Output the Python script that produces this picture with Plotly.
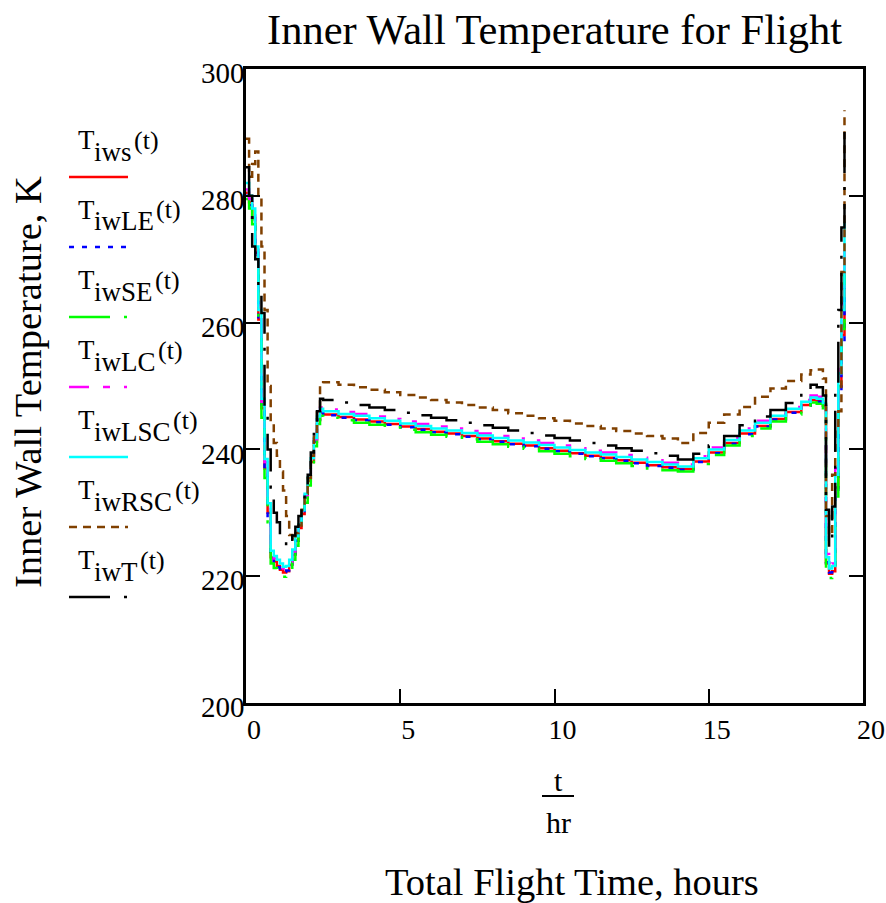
import plotly.graph_objects as go

# ---------------------------------------------------------------------------
# Flight time grid (hours) shared by all inner-wall temperature series
# ---------------------------------------------------------------------------
t_hr = [
    # take-off / initial climb
    0.0, 0.1, 0.2, 0.3, 0.4, 0.5, 0.6, 0.7, 0.8, 0.9,
    1.0, 1.1, 1.2, 1.3, 1.4, 1.5, 1.6, 1.7, 1.8, 1.9,
    2.0, 2.1, 2.2, 2.3, 2.4,
    # cruise
    2.5, 3.0, 3.5, 4.0, 4.5, 5.0, 5.5, 6.0, 6.5, 7.0, 7.5, 8.0,
    8.5, 9.0, 9.5, 10.0, 10.5, 11.0, 11.5, 12.0, 12.5, 13.0, 13.5, 14.0,
    # late cruise warm-up
    14.5, 15.0, 15.5, 16.0, 16.5, 17.0, 17.5, 18.0,
    # descent / landing
    18.3, 18.5, 18.7, 18.8, 18.9, 19.0, 19.1, 19.2, 19.3, 19.4,
]

# Inner wall temperatures, K
T_iws = [
    280.5, 279.0, 276.5, 271.0, 260.5, 246.5, 237.0, 230.0, 223.0, 222.3,
    221.6, 221.0, 220.6, 220.8, 221.8, 223.4, 225.6, 227.6, 229.8, 232.4,
    235.0, 238.0, 241.2, 244.6, 245.8,
    245.5, 245.1, 244.7, 244.4, 244.0, 243.6, 243.2, 242.8, 242.5, 242.1, 241.7, 241.3,
    240.9, 240.6, 240.2, 239.8, 239.4, 239.0, 238.7, 238.3, 237.9, 237.5, 237.2, 236.9,
    238.1, 239.5, 241.0, 242.5, 243.7, 244.8, 245.9, 247.0,
    247.8, 247.6, 246.9, 222.0, 220.4, 220.8, 234.0, 250.0, 258.0, 268.0,
]
T_iwLE = [
    280.0, 278.5, 276.0, 270.5, 260.0, 246.0, 236.5, 229.5, 222.8, 222.0,
    221.4, 220.9, 220.7, 220.9, 221.9, 223.5, 225.6, 227.6, 229.9, 232.5,
    235.1, 238.1, 241.3, 244.7, 245.9,
    245.4, 245.0, 244.6, 244.3, 243.9, 243.5, 243.1, 242.7, 242.4, 242.0, 241.6, 241.2,
    240.8, 240.5, 240.1, 239.7, 239.3, 238.9, 238.6, 238.2, 237.8, 237.4, 237.1, 236.8,
    238.0, 239.4, 240.9, 242.4, 243.6, 244.7, 245.8, 246.9,
    247.7, 247.5, 246.8, 222.2, 220.6, 221.0, 233.0, 249.0, 257.0, 265.5,
]
T_iwSE = [
    279.5, 278.0, 275.5, 270.0, 259.0, 245.0, 235.5, 228.5, 222.0, 221.3,
    220.7, 220.2, 219.9, 220.0, 221.0, 222.6, 224.8, 226.8, 229.0, 231.6,
    234.3, 237.3, 240.5, 244.0, 245.3,
    245.0, 244.6, 244.2, 243.9, 243.5, 243.1, 242.7, 242.3, 242.0, 241.6, 241.2, 240.8,
    240.4, 240.1, 239.7, 239.3, 238.9, 238.5, 238.2, 237.8, 237.4, 237.0, 236.7, 236.5,
    237.7, 239.1, 240.6, 242.1, 243.3, 244.4, 245.5, 246.6,
    247.4, 247.2, 246.5, 221.0, 219.7, 220.0, 232.0, 250.0, 259.0, 267.5,
]
T_iwLC = [
    281.0, 279.5, 277.5, 271.5, 261.5, 247.5, 238.0, 231.0, 223.6, 222.8,
    222.2, 221.6, 221.2, 221.3, 222.3, 223.9, 226.0, 228.0, 230.2, 232.8,
    235.4, 238.4, 241.6, 245.0, 246.6,
    246.3, 245.9, 245.6, 245.2, 244.8, 244.4, 244.0, 243.6, 243.3, 242.9, 242.5, 242.1,
    241.7, 241.4, 241.0, 240.6, 240.2, 239.8, 239.5, 239.1, 238.7, 238.3, 237.9, 237.6,
    238.9, 240.3, 241.8, 243.3, 244.5, 245.6, 246.7, 247.8,
    248.5, 248.3, 247.6, 223.5, 221.8, 222.0, 237.0, 253.0, 263.0, 276.5,
]
T_iwLSC = [
    282.0, 280.0, 278.0, 272.0, 262.0, 248.0, 238.5, 231.5, 224.0, 223.2,
    222.6, 222.0, 221.5, 221.6, 222.6, 224.2, 226.3, 228.2, 230.4, 233.0,
    235.6, 238.6, 241.8, 245.2, 246.4,
    246.0, 245.6, 245.3, 244.9, 244.5, 244.1, 243.7, 243.3, 243.0, 242.6, 242.2, 241.8,
    241.4, 241.1, 240.7, 240.3, 239.9, 239.5, 239.2, 238.8, 238.4, 238.0, 237.6, 237.3,
    238.6, 240.0, 241.5, 243.0, 244.2, 245.3, 246.4, 247.5,
    248.2, 248.0, 247.3, 223.0, 221.2, 221.6, 236.0, 252.0, 262.0, 276.0,
]
T_iwRSC = [
    289.0, 283.0, 285.0, 287.0, 280.0, 272.0, 262.0, 250.0, 244.0, 241.0,
    239.0, 236.5, 233.5, 229.5, 226.5, 225.7, 226.8, 228.0, 230.5, 233.0,
    235.5, 239.0, 242.5, 246.5, 250.3,
    250.6, 250.2, 249.8, 249.4, 249.0, 248.6, 248.2, 247.8, 247.4, 247.0, 246.6, 246.2,
    245.7, 245.3, 244.9, 244.5, 244.1, 243.7, 243.3, 242.9, 242.5, 242.1, 241.7, 241.0,
    242.6, 244.2, 245.5, 246.7, 248.3, 249.6, 250.8, 251.8,
    252.5, 252.6, 251.2, 229.5, 226.5, 236.0, 243.0, 246.0, 268.0, 293.5,
]
T_iwT = [
    284.5, 280.0, 272.0, 270.0, 265.0, 261.5, 246.0, 240.0, 234.0, 230.0,
    228.5, 226.8, 225.5, 224.6, 224.8, 226.4, 227.8, 229.5, 231.3, 233.5,
    236.0, 239.5, 243.0, 246.0, 248.0,
    247.8, 247.4, 247.0, 246.6, 246.2, 245.8, 245.4, 245.0, 244.6, 244.2, 243.8, 243.4,
    243.0, 242.6, 242.2, 241.8, 241.4, 241.0, 240.6, 240.2, 239.8, 239.4, 239.0, 238.4,
    239.3, 240.6, 242.1, 243.8, 245.2, 246.2, 247.3, 249.0,
    250.2, 249.8, 248.5, 230.5, 224.5, 231.0, 250.0, 262.0, 275.0, 292.0,
]

series_codes = ["iws", "iwLE", "iwSE", "iwLC", "iwLSC", "iwRSC", "iwT"]
series_values = [T_iws, T_iwLE, T_iwSE, T_iwLC, T_iwLSC, T_iwRSC, T_iwT]
series_colors = ["#ff0000", "#0000ff", "#00ff00", "#ff00ff", "#00ffff", "#804000", "#000000"]
series_dash = [
    "solid",
    "5px,8px",
    "41px,14px,3px,14px",
    "20px,14px,7px,14px,3px,14px",
    "solid",
    "8px,6px",
    "41px,14px,3px,14px",
]

x_ticks = [0, 5, 10, 15, 20]
y_ticks = [200, 220, 240, 260, 280, 300]

# ---------------------------------------------------------------------------
# Page geometry (pixels)
# ---------------------------------------------------------------------------
W, H = 886, 903
PL, PR, PT, PB = 246, 863, 69, 703
FONT = "Liberation Serif, Times New Roman, serif"


def fx(px):
    return (px - PL) / (PR - PL)


def fy(py):
    return (PB - py) / (PB - PT)


fig = go.Figure()
for code, vals, col, dash in zip(series_codes, series_values, series_colors, series_dash):
    fig.add_trace(go.Scatter(
        x=t_hr, y=vals, mode="lines", name=f"T{code}(t)",
        line=dict(color=col, width=2.5, dash=dash, shape="hv"),
        showlegend=False,
    ))

annotations = []
shapes = []

# Title and axis titles
annotations.append(dict(text="Inner Wall Temperature for Flight", x=fx(554), y=fy(30),
                        xref="paper", yref="paper", showarrow=False,
                        xanchor="center", yanchor="middle",
                        font=dict(family=FONT, size=42.5, color="black")))
annotations.append(dict(text="Inner Wall Temperature, K", x=fx(28), y=fy(382),
                        xref="paper", yref="paper", showarrow=False, textangle=-90,
                        xanchor="center", yanchor="middle",
                        font=dict(family=FONT, size=38.5, color="black")))
annotations.append(dict(text="Total Flight Time, hours", x=fx(572), y=fy(882),
                        xref="paper", yref="paper", showarrow=False,
                        xanchor="center", yanchor="middle",
                        font=dict(family=FONT, size=38.5, color="black")))
# t / hr unit fraction under the x axis
annotations.append(dict(text="t", x=fx(558), y=fy(780),
                        xref="paper", yref="paper", showarrow=False,
                        xanchor="center", yanchor="middle",
                        font=dict(family=FONT, size=30, color="black")))
annotations.append(dict(text="hr", x=fx(558), y=fy(822),
                        xref="paper", yref="paper", showarrow=False,
                        xanchor="center", yanchor="middle",
                        font=dict(family=FONT, size=30, color="black")))
shapes.append(dict(type="line", xref="paper", yref="paper",
                   x0=fx(542), x1=fx(574), y0=fy(796), y1=fy(796),
                   line=dict(color="black", width=2)))

# Legend: label above a sample of each line style
GLYPH_W = {"i": 0.278, "w": 0.722, "s": 0.389, "L": 0.611, "E": 0.611,
           "S": 0.556, "C": 0.667, "R": 0.667, "T": 0.611}
LEG_FS = 27
for k, (code, col, dash) in enumerate(zip(series_codes, series_colors, series_dash)):
    base = 140 + 70 * k
    x0 = 76
    annotations.append(dict(text="T", x=fx(x0), y=fy(base), xref="paper", yref="paper",
                            showarrow=False, xanchor="left", yanchor="middle",
                            font=dict(family=FONT, size=LEG_FS, color="black")))
    x1 = x0 + GLYPH_W["T"] * LEG_FS
    annotations.append(dict(text=code, x=fx(x1), y=fy(base + 11.5), xref="paper", yref="paper",
                            showarrow=False, xanchor="left", yanchor="middle",
                            font=dict(family=FONT, size=LEG_FS, color="black")))
    x2 = x1 + sum(GLYPH_W[c] for c in code) * LEG_FS + 2
    annotations.append(dict(text="(t)", x=fx(x2), y=fy(base), xref="paper", yref="paper",
                            showarrow=False, xanchor="left", yanchor="middle",
                            font=dict(family=FONT, size=26, color="black")))
    shapes.append(dict(type="line", xref="paper", yref="paper",
                       x0=fx(69), x1=fx(128), y0=fy(177 + 70 * k), y1=fy(177 + 70 * k),
                       line=dict(color=col, width=2.5, dash=dash)))

fig.update_layout(
    width=W, height=H,
    margin=dict(l=PL, r=W - PR, t=PT, b=H - PB, pad=0, autoexpand=False),
    paper_bgcolor="white", plot_bgcolor="white",
    showlegend=False,
    annotations=annotations, shapes=shapes,
    font=dict(family=FONT, color="black"),
)
fig.update_xaxes(
    range=[0, 20], tickvals=x_ticks, ticktext=[str(v) for v in x_ticks],
    ticks="inside", ticklen=14, tickwidth=2, tickcolor="black",
    showline=True, linewidth=2.5, linecolor="black", mirror=True,
    showgrid=False, zeroline=False, ticklabelshift=8, automargin=False,
    tickfont=dict(family=FONT, size=28, color="black"),
)
fig.update_yaxes(
    range=[200, 300], tickvals=y_ticks, ticktext=[str(v) for v in y_ticks],
    ticks="inside", ticklen=14, tickwidth=2, tickcolor="black",
    showline=True, linewidth=2.5, linecolor="black", mirror="ticks",
    showgrid=False, zeroline=False, ticklabelshift=4, ticklabelstandoff=-7,
    automargin=False,
    tickfont=dict(family=FONT, size=29, color="black"),
)

fig.write_html("out.html")
